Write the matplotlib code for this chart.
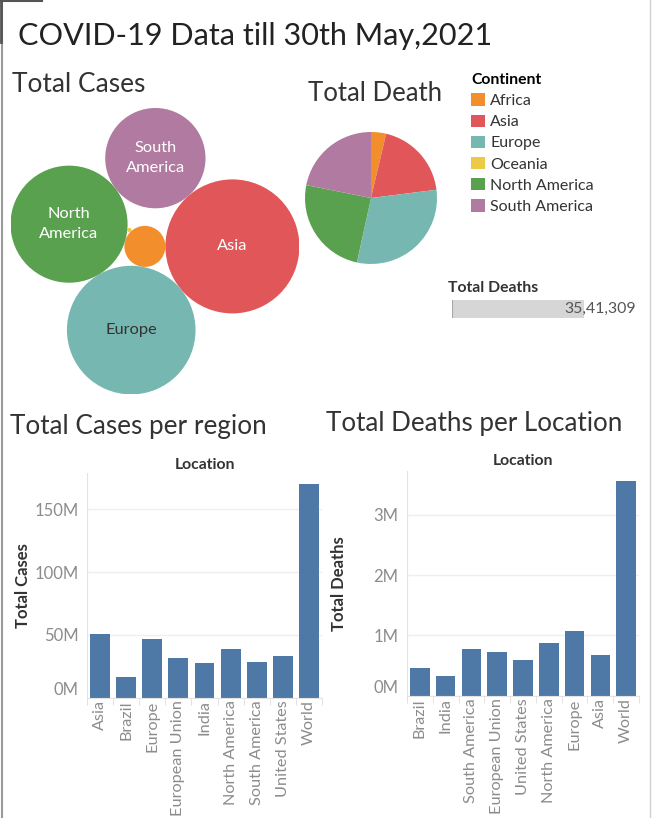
import numpy as np
import matplotlib
matplotlib.use("Agg")
import matplotlib.pyplot as plt
from matplotlib.patches import Circle, Patch
from matplotlib.lines import Line2D
from matplotlib.ticker import FuncFormatter

plt.rcParams['font.family'] = ['Lato', 'DejaVu Sans']

# ---- data ----
continents = ["Africa", "Asia", "Europe", "Oceania", "North America", "South America"]
continent_cases_m = [4.75, 50.7, 46.7, 0.05, 38.7, 28.4]
continent_deaths_m = [0.13, 0.68, 1.07, 0.001, 0.87, 0.77]
total_deaths = 3541309

case_locations = ["Asia", "Brazil", "Europe", "European Union", "India",
                  "North America", "South America", "United States", "World"]
case_values = [50.7e6, 16.4e6, 46.7e6, 31.6e6, 27.6e6, 38.7e6, 28.4e6, 33.2e6, 170.0e6]

death_locations = ["Brazil", "India", "South America", "European Union", "United States",
                   "North America", "Europe", "Asia", "World"]
death_values = [0.46e6, 0.33e6, 0.77e6, 0.72e6, 0.59e6, 0.87e6, 1.07e6, 0.67e6, 3.56e6]

# ---- styles ----
continent_colors = ["#F28E2B", "#E15759", "#76B7B2", "#EDC948", "#59A14F", "#B07AA1"]
bubble_text = {"Asia": "white", "Europe": "#333333",
               "North America": "white", "South America": "white"}
BAR_COLOR = "#4E79A7"
TICK_GRAY = "#8c8c8c"
DARK = "#333333"

W, H = 654, 818
fig = plt.figure(figsize=(W / 100, H / 100), dpi=100)


def px_box(left, top, right, bottom):
    return [left / W, 1 - bottom / H, (right - left) / W, (bottom - top) / H]


def fx(x):
    return x / W


def fy(y):
    return 1 - y / H


def indian_format(n):
    s = str(int(n))
    head, tail = s[:-3], s[-3:]
    parts = []
    while len(head) > 2:
        parts.insert(0, head[-2:])
        head = head[:-2]
    if head:
        parts.insert(0, head)
    return ",".join(parts + [tail])


def tangent_circle(p1, r1, p2, r2, r, side):
    # centre of a circle of radius r touching circles (p1,r1) and (p2,r2)
    p1, p2 = np.asarray(p1, float), np.asarray(p2, float)
    d1, d2 = r1 + r, r2 + r
    v = p2 - p1
    d = np.hypot(*v)
    a = (d1 ** 2 - d2 ** 2 + d ** 2) / (2 * d)
    h = np.sqrt(max(d1 ** 2 - a ** 2, 0))
    u = v / d
    perp = np.array([-u[1], u[0]])
    return p1 + a * u + side * h * perp


# ---- frame lines ----
fig.add_artist(Line2D([fx(2), fx(2)], [0, 1], transform=fig.transFigure, color="#9a9a9a", lw=1.5))
fig.add_artist(Line2D([fx(650), fx(650)], [0, 1], transform=fig.transFigure, color="#d0d0d0", lw=1))
fig.add_artist(Line2D([0, fx(42)], [fy(0.5), fy(0.5)], transform=fig.transFigure, color="#555555", lw=1.5))
fig.add_artist(Line2D([fx(1), fx(1)], [1, fy(42)], transform=fig.transFigure, color="#555555", lw=2))

# ---- titles ----
titles = [
    ("COVID-19 Data till 30th May,2021", 18, 45, 474, "#222222"),
    ("Total Cases", 12, 92, 133, DARK),
    ("Total Death", 308, 101, 134, DARK),
    ("Total Cases per region", 10, 434, 257, DARK),
    ("Total Deaths per Location", 326, 431, 296, DARK),
]
title_objs = []
for txt, x, y, width, col in titles:
    t = fig.text(fx(x), fy(y), txt, fontsize=20, color=col, va="baseline", ha="left")
    title_objs.append((t, width))

# ---- packed bubbles: total cases by continent ----
radii = dict(zip(continents, np.sqrt(continent_cases_m)))
centers = {"Africa": np.array([0.0, 0.0])}
centers["Asia"] = np.array([radii["Africa"] + radii["Asia"], 0.0])
centers["Europe"] = tangent_circle(centers["Africa"], radii["Africa"],
                                   centers["Asia"], radii["Asia"], radii["Europe"], -1)
centers["North America"] = tangent_circle(centers["Africa"], radii["Africa"],
                                          centers["Europe"], radii["Europe"], radii["North America"], -1)
centers["South America"] = tangent_circle(centers["North America"], radii["North America"],
                                          centers["Asia"], radii["Asia"], radii["South America"], 1)
centers["Oceania"] = tangent_circle(centers["Africa"], radii["Africa"],
                                    centers["North America"], radii["North America"], radii["Oceania"], -1)

xmin = min(centers[c][0] - radii[c] for c in continents)
xmax = max(centers[c][0] + radii[c] for c in continents)
ymin = min(centers[c][1] - radii[c] for c in continents)
ymax = max(centers[c][1] + radii[c] for c in continents)
scale = 9.41  # pixels per sqrt(million cases)
bx, by = 10.5, 108
ax_b = fig.add_axes(px_box(bx, by, bx + (xmax - xmin) * scale, by + (ymax - ymin) * scale))
for c, col in zip(continents, continent_colors):
    ax_b.add_patch(Circle(centers[c], radii[c], facecolor=col, edgecolor="none"))
    if c in bubble_text:
        ax_b.text(centers[c][0], centers[c][1], c.replace(" ", "\n"), ha="center", va="center",
                  color=bubble_text[c], fontsize=11.8, linespacing=1.55)
ax_b.set_xlim(xmin, xmax)
ax_b.set_ylim(ymin, ymax)
ax_b.axis("off")

# ---- pie: total deaths by continent ----
ax_p = fig.add_axes(px_box(305, 132, 437, 264))
ax_p.pie(continent_deaths_m, colors=continent_colors, startangle=90, counterclock=False,
         wedgeprops=dict(linewidth=0))
ax_p.set_xlim(-1, 1)
ax_p.set_ylim(-1, 1)

handles = [Patch(facecolor=col, edgecolor="none", label=c) for c, col in zip(continents, continent_colors)]
fig.legend(handles=handles, loc="upper left", bbox_to_anchor=(fx(471), fy(73)), frameon=False,
           title="Continent", title_fontproperties={"weight": "bold", "size": 11.3}, alignment="left",
           fontsize=11.5, labelcolor=DARK, handlelength=0.88, handleheight=0.82,
           handletextpad=0.32, labelspacing=0.4, borderaxespad=0, borderpad=0)

# ---- KPI: total deaths ----
fig.text(fx(448), fy(292), "Total Deaths", fontsize=11.3, fontweight="bold", color=DARK, va="baseline")
ax_k = fig.add_axes(px_box(452, 300, 584, 318))
ax_k.barh([0], [total_deaths], height=1, color="#d6d6d6")
ax_k.axvline(0, color="#a8a8a8", lw=1.5)
ax_k.set_xlim(0, total_deaths)
ax_k.set_ylim(-0.5, 0.5)
ax_k.axis("off")
ax_k.text((636 - 452) / (584 - 452), 0.5, indian_format(total_deaths), transform=ax_k.transAxes,
          ha="right", va="center", fontsize=11.4, color="#555555")


# ---- bar charts ----
def draw_bars(box, labels, values, ymax, step, ylabel, ylabel_x, title_pad):
    ax = fig.add_axes(box)
    x = np.arange(len(labels))
    ax.bar(x, values, width=0.76, color=BAR_COLOR)
    ax.set_xlim(-0.5, len(labels) - 0.5)
    ax.set_ylim(0, ymax)
    ax.set_yticks(np.arange(0, ymax, step))
    ax.yaxis.set_major_formatter(FuncFormatter(lambda v, _: f"{v / 1e6:.0f}M"))
    ax.set_xticks(x)
    ax.set_xticklabels(labels, rotation=90)
    ax.set_xticks(np.arange(len(labels) + 1) - 0.5, minor=True)
    ax.tick_params(axis="x", which="major", length=0, pad=2, labelsize=11.7, labelcolor=TICK_GRAY)
    ax.tick_params(axis="x", which="minor", length=5, color="#dddddd")
    ax.tick_params(axis="y", length=0, pad=6, labelsize=12, labelcolor=TICK_GRAY)
    ax.grid(axis="y", color="#efefef", lw=1)
    ax.set_axisbelow(True)
    for s in ["top", "right"]:
        ax.spines[s].set_visible(False)
    for s in ["left", "bottom"]:
        ax.spines[s].set_color("#e3e3e3")
    ax.set_title("Location", fontsize=11.3, fontweight="bold", color=DARK, pad=title_pad)
    ax.set_ylabel(ylabel, fontsize=12, fontweight="bold", color=DARK)
    ax.yaxis.set_label_coords(ylabel_x, 0.5)
    return ax


ax_c = draw_bars(px_box(87, 473, 322, 697.7), case_locations, case_values, 179e6, 50e6,
                 "Total Cases", (31 - 87) / 235, 3)
ax_d = draw_bars(px_box(407, 471, 639, 695.7), death_locations, death_values, 3.73e6, 1e6,
                 "Total Deaths", (347 - 407) / 232, 4)

# fit title widths and lift the 0M labels like the original
fig.canvas.draw()
renderer = fig.canvas.get_renderer()
for t, width in title_objs:
    w = t.get_window_extent(renderer).width
    t.set_fontsize(t.get_fontsize() * width / w)
for ax in (ax_c, ax_d):
    ax.yaxis.get_major_ticks()[0].label1.set_verticalalignment("bottom")

fig.savefig("out.png", dpi=100)
